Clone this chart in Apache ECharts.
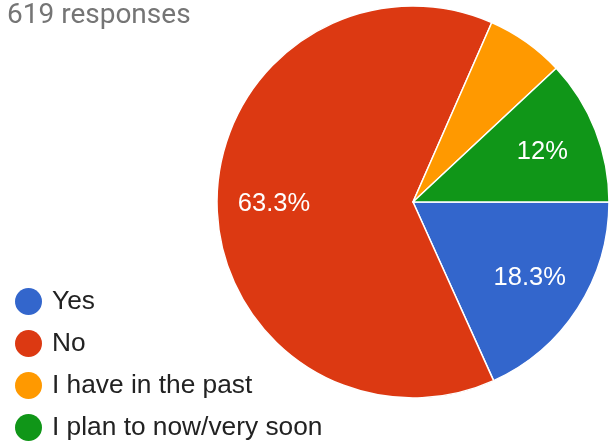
<!DOCTYPE html>
<html>
<head>
<meta charset="utf-8">
<script src="https://cdn.jsdelivr.net/npm/echarts@6/dist/echarts.min.js"></script>
<style>html,body{margin:0;padding:0;background:#fff;}#c{width:613px;height:442px;}</style>
</head>
<body>
<div id="c"></div>
<script>
var titleText = '619 responses';
var categories = ['Yes', 'No', 'I have in the past', 'I plan to now/very soon'];
var counts = [113, 392, 40, 74];
var colors = ['#3366cc', '#dc3912', '#ff9900', '#109618'];

var chart = echarts.init(document.getElementById('c'), null, {renderer: 'canvas'});
var data = categories.map(function (c, i) {
  return {name: c, value: counts[i], itemStyle: {color: colors[i]}};
});
function fmt(p) {
  if (p.percent < 10) return '';
  var s = (Math.round(p.percent * 10) / 10).toFixed(1);
  if (s.slice(-2) === '.0') s = s.slice(0, -2);
  return s + '%';
}
chart.setOption({
  animation: false,
  title: {
    text: titleText, left: 7, top: 2, padding: 0,
    textStyle: {fontFamily: 'Roboto', fontSize: 28, fontWeight: 'normal', color: '#757575'}
  },
  legend: {
    orient: 'vertical', left: 15, top: 288, padding: 0, height: 160,
    icon: 'circle', itemWidth: 27, itemHeight: 27, itemGap: 15,
    itemStyle: {borderWidth: 0},
    textStyle: {fontFamily: 'Liberation Sans', fontSize: 26.3, lineHeight: 26, color: '#222222', padding: [0, 0, 0, 5]},
    data: categories
  },
  series: [
    {
      type: 'pie', center: [413, 202], radius: [0, 196], startAngle: 0, clockwise: true,
      data: data, label: {show: false}, labelLine: {show: false},
      itemStyle: {borderColor: '#ffffff', borderWidth: 1.5},
      emphasis: {disabled: true}
    },
    {
      type: 'pie', center: [413, 203], radius: [76, 196], startAngle: 0, clockwise: true,
      data: data.map(function (d) { return {name: d.name, value: d.value, itemStyle: {color: 'rgba(0,0,0,0)'}}; }),
      silent: true, legendHoverLink: false,
      itemStyle: {borderWidth: 0},
      label: {show: true, position: 'inside', formatter: fmt, color: '#ffffff',
        fontFamily: 'Liberation Sans', fontSize: 25.5},
      labelLine: {show: false}, emphasis: {disabled: true}
    }
  ]
});
</script>
</body>
</html>
